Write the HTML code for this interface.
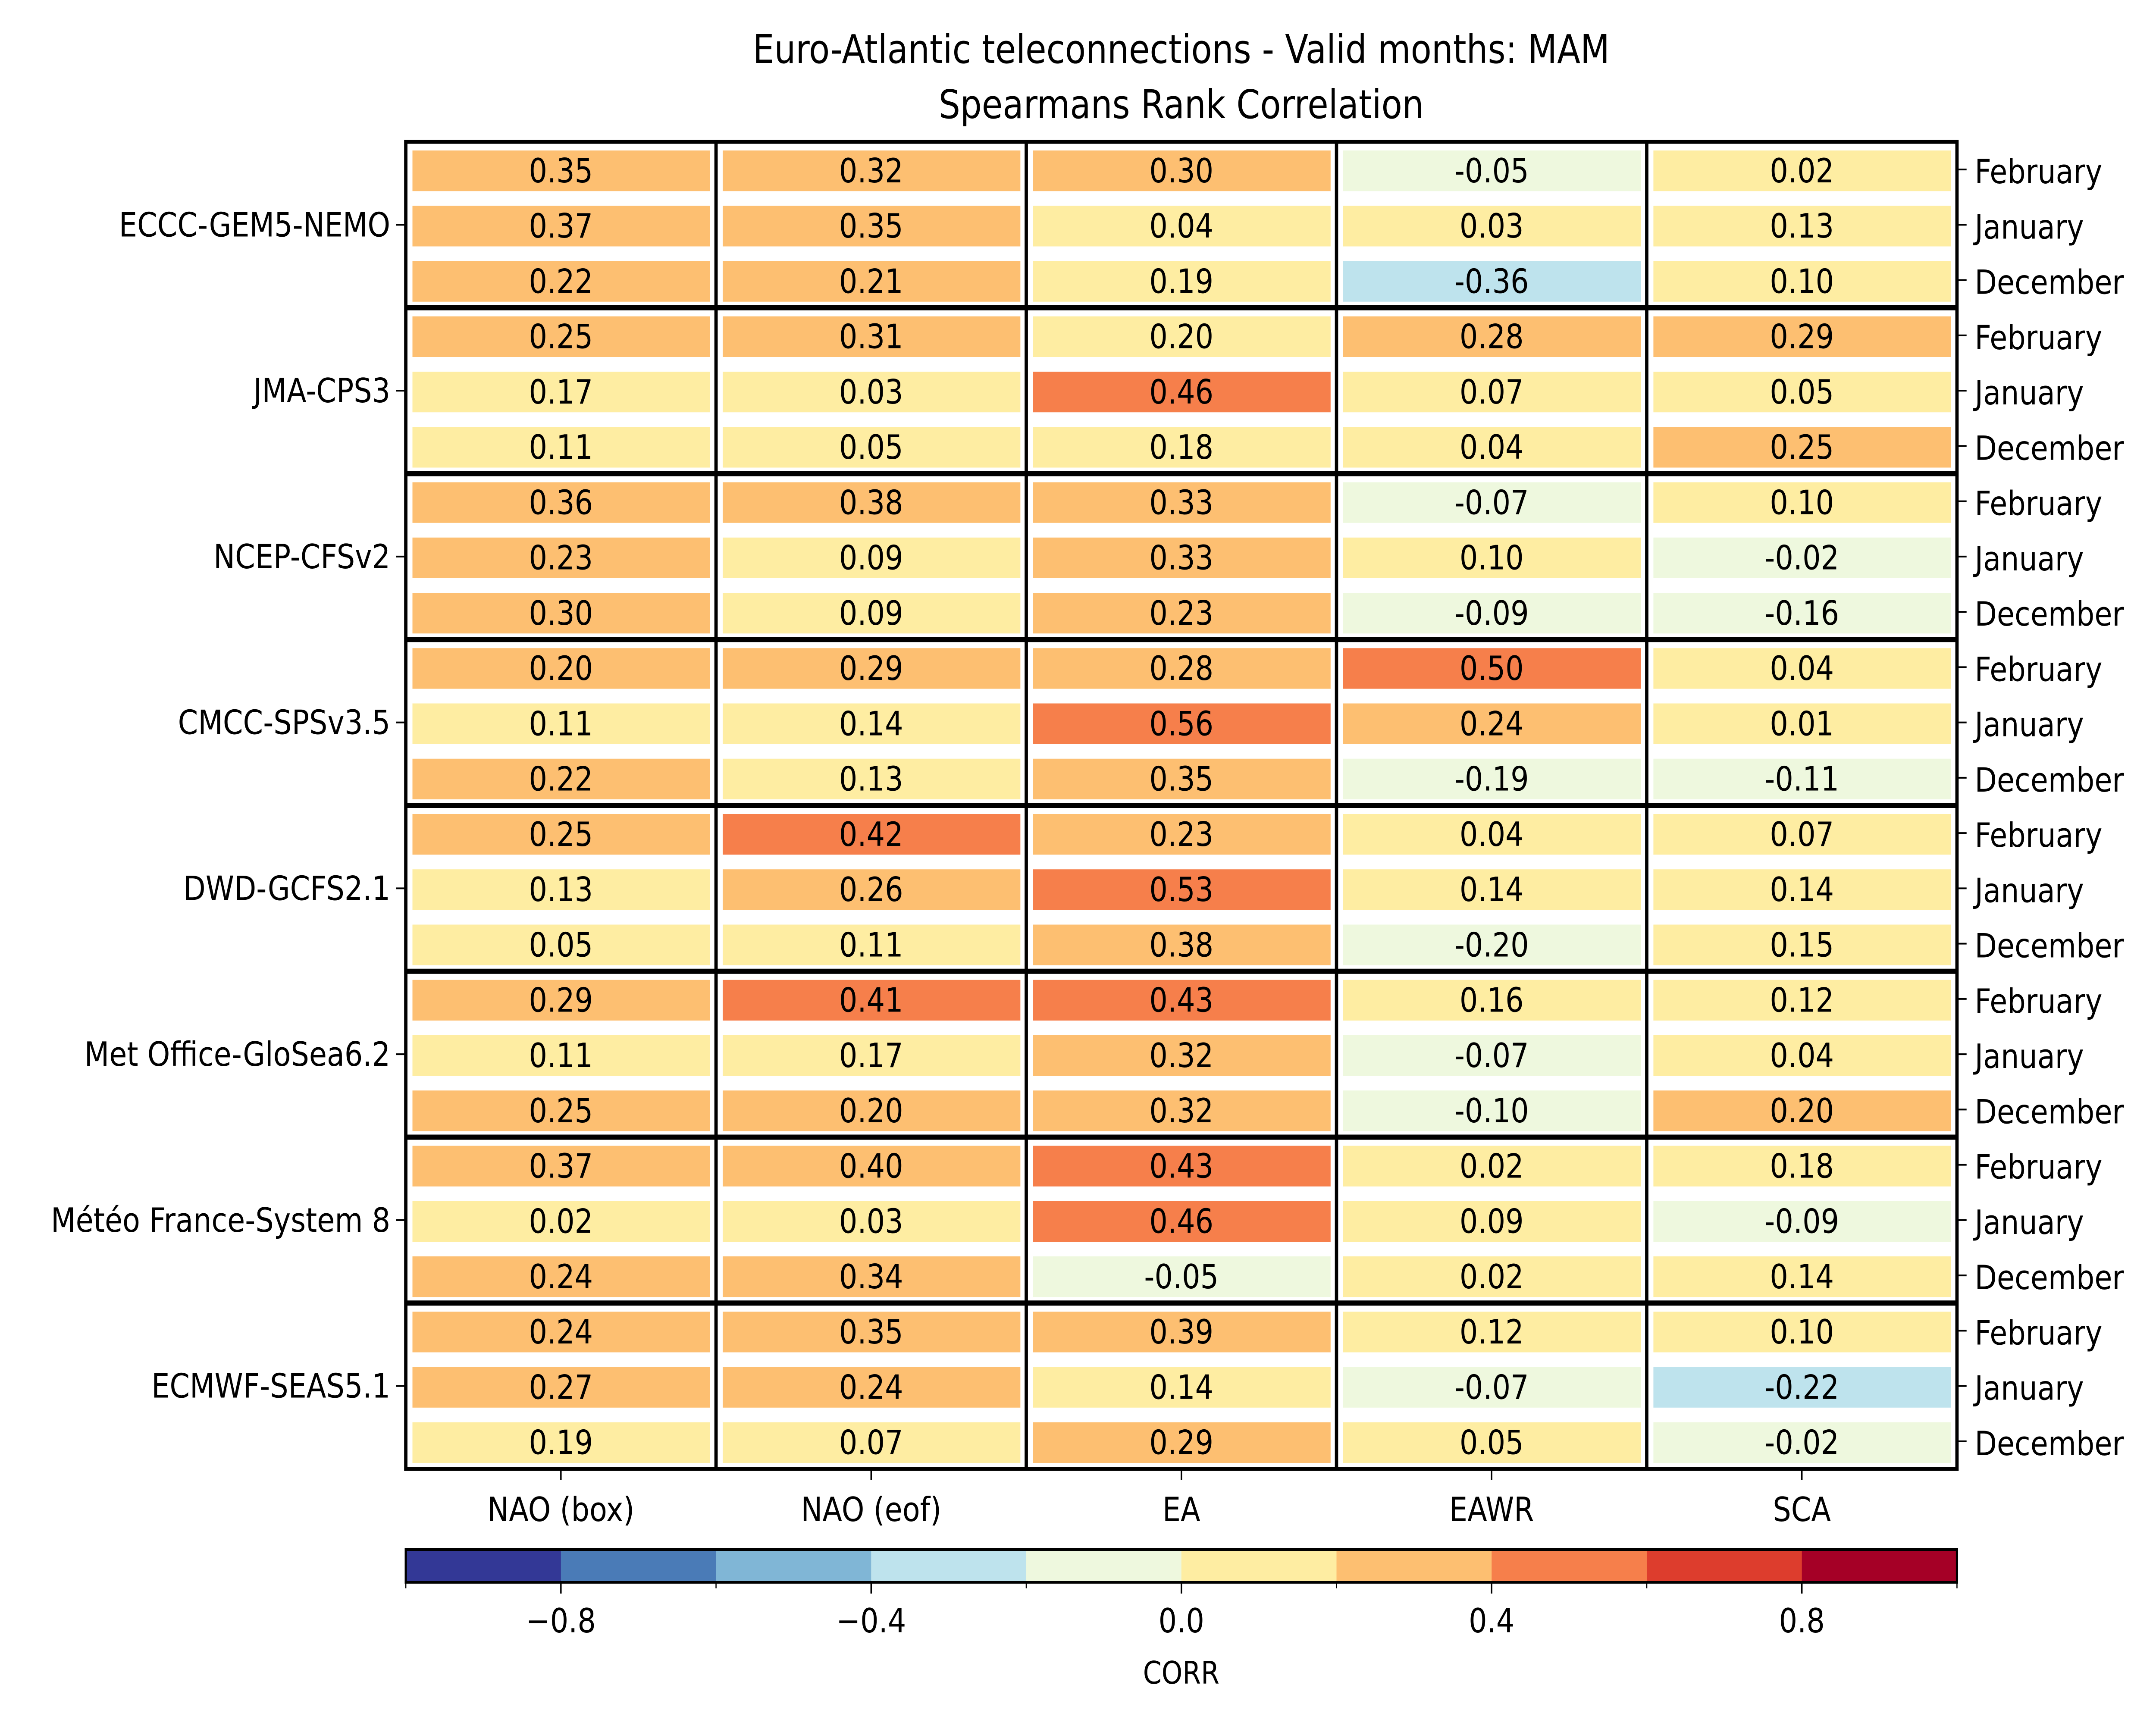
<!DOCTYPE html>
<html><head><meta charset="utf-8"><style>
html,body{margin:0;padding:0;background:#fff;width:100%;height:100%;overflow:hidden;}
svg{display:block;position:absolute;left:0;top:0;width:100vw;height:100vh;font-family:"DejaVu Sans","Liberation Sans",sans-serif;}
</style></head><body>
<svg id="chart" viewBox="0 0 5839 3980" preserveAspectRatio="none" xmlns="http://www.w3.org/2000/svg">
<rect width="5839" height="3980" fill="#fff"/>
<text x="3199" y="146" font-size="92" text-anchor="middle">Euro-Atlantic teleconnections - Valid months: MAM</text>
<text x="3199" y="274" font-size="92" text-anchor="middle">Spearmans Rank Correlation</text>
<g id="cells"></g><g id="grid"></g><g id="axes"></g><g id="cbar"></g>
<text x="3199" y="3905" font-size="72" text-anchor="middle">CORR</text>
</svg>
<script>
const models = ["ECCC-GEM5-NEMO","JMA-CPS3","NCEP-CFSv2","CMCC-SPSv3.5","DWD-GCFS2.1","Met Office-GloSea6.2","Météo France-System 8","ECMWF-SEAS5.1"];
const months = ["February","January","December"];
const indices = ["NAO (box)","NAO (eof)","EA","EAWR","SCA"];
const values = [
[0.35,0.32,0.30,-0.05,0.02],[0.37,0.35,0.04,0.03,0.13],[0.22,0.21,0.19,-0.36,0.10],
[0.25,0.31,0.198,0.28,0.29],[0.17,0.03,0.46,0.07,0.05],[0.11,0.05,0.18,0.04,0.25],
[0.36,0.38,0.33,-0.07,0.10],[0.23,0.09,0.33,0.10,-0.02],[0.30,0.09,0.23,-0.09,-0.16],
[0.202,0.29,0.28,0.50,0.04],[0.11,0.14,0.56,0.24,0.01],[0.22,0.13,0.35,-0.19,-0.11],
[0.25,0.42,0.23,0.04,0.07],[0.13,0.26,0.53,0.14,0.14],[0.05,0.11,0.38,-0.198,0.15],
[0.29,0.41,0.43,0.16,0.12],[0.11,0.17,0.32,-0.07,0.04],[0.25,0.202,0.32,-0.10,0.202],
[0.37,0.398,0.43,0.02,0.18],[0.02,0.03,0.46,0.09,-0.09],[0.24,0.34,-0.05,0.02,0.14],
[0.24,0.35,0.39,0.12,0.10],[0.27,0.24,0.14,-0.07,-0.22],[0.19,0.07,0.29,0.05,-0.02]
];
const cbTicks = [-0.8,-0.4,0,0.4,0.8];
const cbColors = ["#333896","#4a7bb7","#80b6d6","#bee3ed","#eef8de","#feeda2","#fdbf71","#f67f4b","#dd3d2d","#a50026"];

const NS="http://www.w3.org/2000/svg";
const L=1099,R=5300,T=329,B=3407;
const nRows=values.length,nCols=indices.length;
const colW=(R-L)/nCols,rowH=(B-T)/nRows;
const xCol=c=>L+c*colW, yRow=r=>T+r*rowH;
const cbL=1099,cbR=5300,cbT=3594,cbB=3670;
const xCb=v=>cbL+(v+1)/2*(cbR-cbL);
function colorFor(v){let i=Math.floor((v+1)/0.2);i=Math.max(0,Math.min(9,i));return cbColors[i];}
function mk(tag,attrs,parent,txt){const e=document.createElementNS(NS,tag);for(const k in attrs)e.setAttribute(k,attrs[k]);if(txt!==undefined)e.textContent=txt;parent.appendChild(e);return e;}
const cells=document.getElementById('cells'),grid=document.getElementById('grid'),axes=document.getElementById('axes'),cbar=document.getElementById('cbar');

for(let r=0;r<nRows;r++){for(let c=0;c<nCols;c++){
  const v=values[r][c];
  const rect=mk('rect',{x:xCol(c)+18,y:yRow(r)+20,width:colW-34,height:rowH-34,fill:colorFor(v)},cells);
  
  
  const t=mk('text',{x:xCol(c)+colW/2,y:yRow(r)+94,'font-size':78,'text-anchor':'middle'},cells,v.toFixed(2));
  
  
}}
for(let c=1;c<nCols;c++){
  const ln=mk('line',{x1:xCol(c),x2:xCol(c),y1:T,y2:B,stroke:'#000','stroke-width':9},grid);
  
  
}
for(let g=1;g<models.length;g++){
  const y=yRow(g*3);
  const ln=mk('line',{x1:L,x2:R,y1:y,y2:y,stroke:'#000','stroke-width':12},grid);
  
  
}
const fr=mk('rect',{x:L,y:T,width:R-L,height:B-T,fill:'none',stroke:'#000','stroke-width':9},grid);



models.forEach((m,g)=>{
  const y=yRow(g*3+1.5);
  mk('line',{x1:L-26,x2:L,y1:y,y2:y,stroke:'#000','stroke-width':4},axes);
  const t=mk('text',{x:L-42,y:y+27,'font-size':78,'text-anchor':'end'},axes,m);
  
  
});
for(let r=0;r<nRows;r++){
  const y=yRow(r+0.5);
  mk('line',{x1:R,x2:R+26,y1:y,y2:y,stroke:'#000','stroke-width':4},axes);
  const t=mk('text',{x:R+48,y:y+32,'font-size':78},axes,months[r%3]);
  
  
}
indices.forEach((n,c)=>{
  const x=xCol(c+0.5);
  mk('line',{x1:x,x2:x,y1:B,y2:B+26,stroke:'#000','stroke-width':4},axes);
  const t=mk('text',{x:x,y:3528,'font-size':78,'text-anchor':'middle'},axes,n);
  
  
});

cbColors.forEach((col,i)=>{
  const v0=-1+i*0.2;
  const r=mk('rect',{x:xCb(v0),y:cbT,width:xCb(v0+0.2)-xCb(v0)+0.5,height:cbB-cbT,fill:col},cbar);
  
  
});
const cf=mk('rect',{x:cbL,y:cbT,width:cbR-cbL,height:cbB-cbT,fill:'none',stroke:'#000','stroke-width':6},cbar);


for(let i=0;i<=10;i++){const x=xCb(-1+i*0.2);mk('line',{x1:x,x2:x,y1:cbB,y2:cbB+14,stroke:'#000','stroke-width':3},cbar);}
cbTicks.forEach(v=>{
  const x=xCb(v);
  mk('line',{x1:x,x2:x,y1:cbB,y2:cbB+26,stroke:'#000','stroke-width':4},cbar);
  const t=mk('text',{x:x,y:3786,'font-size':78,'text-anchor':'middle'},cbar,(v<0?'\u2212':'')+Math.abs(v).toFixed(1));
  
  
});
</script>
</body></html>
